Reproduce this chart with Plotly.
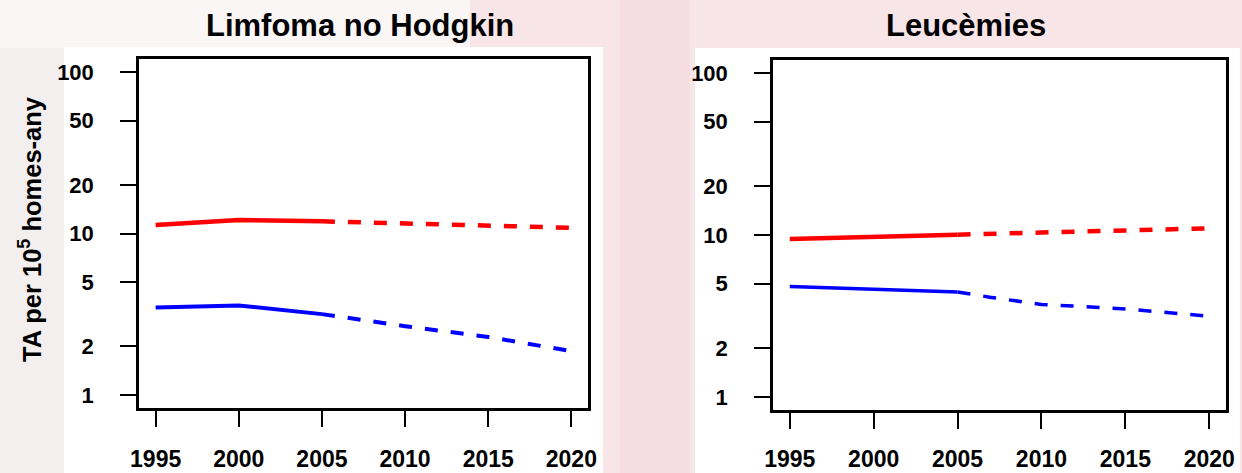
import plotly.graph_objects as go

W, H = 1242, 473

# ---------------- data ----------------
years_obs = [1995, 2000, 2005]
years_proj = [2005, 2010, 2015, 2020]
years_proj_leu_blue = [2005, 2007, 2010, 2015, 2020]

lnh_red_obs = [11.3, 12.1, 11.9]
lnh_red_proj = [11.9, 11.6, 11.3, 10.85]
lnh_blue_obs = [3.48, 3.59, 3.17]
lnh_blue_proj = [3.17, 2.67, 2.29, 1.87]

leu_red_obs = [9.45, 9.81, 10.05]
leu_red_proj = [10.05, 10.4, 10.7, 11.0]
leu_blue_obs = [4.81, 4.65, 4.45]
leu_blue_proj = [4.45, 4.12, 3.73, 3.5, 3.15]

y_tickvals = [1, 2, 5, 10, 20, 50, 100]
y_ticktext = ["1", "2", "5", "10", "20", "50", "100"]
x_tickvals = [1995, 2000, 2005, 2010, 2015, 2020]
x_ticktext = ["1995", "2000", "2005", "2010", "2015", "2020"]

titles = ["Limfoma no Hodgkin", "Leucèmies"]
y_title = "TA per 10<sup>5</sup> homes-any"

# ---------------- helpers ----------------
def px_x(p):
    return p / W

def px_y(p):
    return 1 - p / H

FONT = "Liberation Sans, Arial, sans-serif"
RED = "#ff0000"
BLUE = "#0000ff"
DASH = "13px,13px"

fig = go.Figure()

panels = [
    dict(xa="x", ya="y", red_obs=lnh_red_obs, red_proj=lnh_red_proj,
         blue_obs=lnh_blue_obs, blue_proj=lnh_blue_proj, blue_proj_x=years_proj,
         bw=4),
    dict(xa="x2", ya="y2", red_obs=leu_red_obs, red_proj=leu_red_proj,
         blue_obs=leu_blue_obs, blue_proj=leu_blue_proj, blue_proj_x=years_proj_leu_blue,
         bw=3.5),
]

for p in panels:
    fig.add_trace(go.Scatter(x=years_obs, y=p["red_obs"], mode="lines",
                             line=dict(color=RED, width=4.5), xaxis=p["xa"], yaxis=p["ya"],
                             showlegend=False, hoverinfo="skip"))
    fig.add_trace(go.Scatter(x=years_proj, y=p["red_proj"], mode="lines",
                             line=dict(color=RED, width=4.5, dash=DASH), xaxis=p["xa"], yaxis=p["ya"],
                             showlegend=False, hoverinfo="skip"))
    fig.add_trace(go.Scatter(x=years_obs, y=p["blue_obs"], mode="lines",
                             line=dict(color=BLUE, width=p["bw"]), xaxis=p["xa"], yaxis=p["ya"],
                             showlegend=False, hoverinfo="skip"))
    fig.add_trace(go.Scatter(x=p["blue_proj_x"], y=p["blue_proj"], mode="lines",
                             line=dict(color=BLUE, width=p["bw"], dash=DASH), xaxis=p["xa"], yaxis=p["ya"],
                             showlegend=False, hoverinfo="skip"))

common_x = dict(range=[1994, 2021], tickmode="array", tickvals=x_tickvals, ticktext=x_ticktext,
                ticks="outside", ticklen=16, tickwidth=2, tickcolor="black",
                showline=True, linecolor="black", linewidth=2.5, mirror=True,
                showgrid=False, zeroline=False, automargin=False,
                tickfont=dict(family=FONT, size=23, color="black", weight="bold"))
common_y = dict(type="log", range=[-0.08, 2.08], tickmode="array", tickvals=y_tickvals,
                ticktext=y_ticktext, ticks="outside", ticklen=16, tickwidth=2, tickcolor="black",
                showline=True, linecolor="black", linewidth=2.5, mirror=True,
                showgrid=False, zeroline=False, ticklabelstandoff=22, automargin=False,
                tickfont=dict(family=FONT, size=22, color="black", weight="bold"))

fig.update_layout(
    width=W, height=H,
    margin=dict(l=0, r=0, t=0, b=0, pad=0, autoexpand=False),
    paper_bgcolor="#f7e5e8",
    plot_bgcolor="white",
    xaxis=dict(domain=[px_x(139), px_x(588)], anchor="y", ticklabelstandoff=13, **common_x),
    yaxis=dict(domain=[px_y(408), px_y(59)], anchor="x", **common_y),
    xaxis2=dict(domain=[px_x(773), px_x(1226)], anchor="y2", ticklabelstandoff=11, **common_x),
    yaxis2=dict(domain=[px_y(410), px_y(60)], anchor="x2", **common_y),
)

shapes = [
    # soft background regions
    dict(x0=0, x1=70, y0=0, y1=H, color="#f3efef"),
    dict(x0=0, x1=470, y0=0, y1=48, color="#faf6f6"),
    dict(x0=620, x1=690, y0=0, y1=H, color="#f6dde1"),
    # white panels behind each plot
    dict(x0=64, x1=603, y0=47, y1=H, color="white"),
    dict(x0=695, x1=1240, y0=48, y1=H, color="white"),
]
fig.update_layout(shapes=[
    dict(type="rect", xref="paper", yref="paper", layer="below",
         x0=px_x(s["x0"]), x1=px_x(s["x1"]), y0=px_y(s["y1"]), y1=px_y(s["y0"]),
         fillcolor=s["color"], line=dict(width=0))
    for s in shapes
])

fig.add_annotation(text=titles[0], x=px_x(360), y=px_y(25), xref="paper", yref="paper",
                   showarrow=False, xanchor="center", yanchor="middle",
                   font=dict(family=FONT, size=31, color="black", weight="bold"))
fig.add_annotation(text=titles[1], x=px_x(966), y=px_y(25), xref="paper", yref="paper",
                   showarrow=False, xanchor="center", yanchor="middle",
                   font=dict(family=FONT, size=31, color="black", weight="bold"))
fig.add_annotation(text=y_title, x=px_x(30), y=px_y(229), xref="paper", yref="paper",
                   showarrow=False, xanchor="center", yanchor="middle", textangle=-90,
                   font=dict(family=FONT, size=25.5, color="black", weight="bold"))

fig.write_html("out.html", config={"displayModeBar": False},
               post_script="document.body.style.margin='0';document.body.style.overflow='hidden';")
